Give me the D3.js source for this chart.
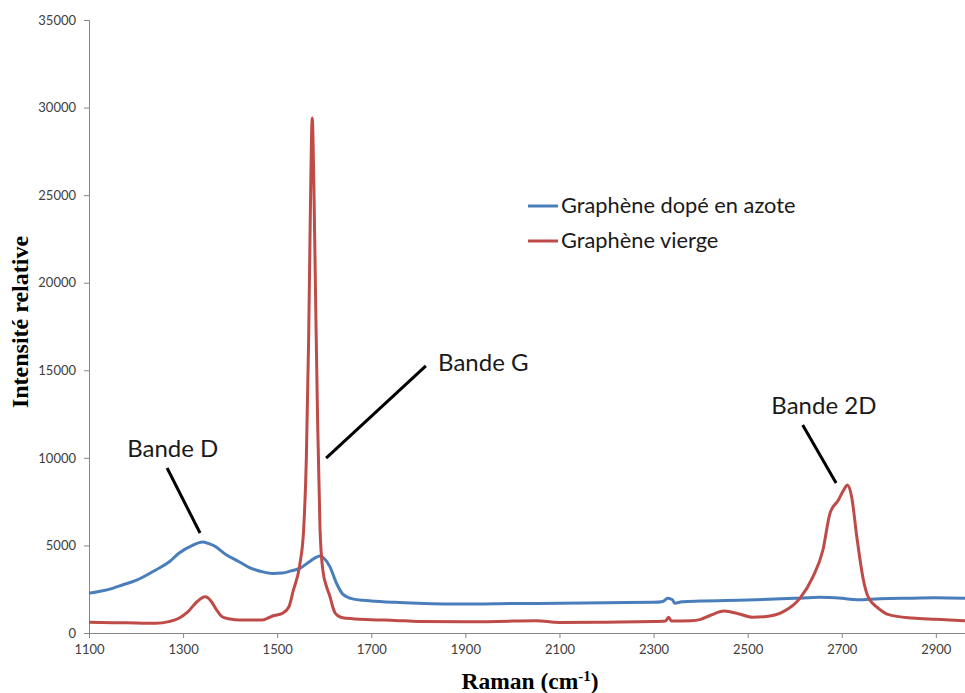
<!DOCTYPE html>
<html lang="fr">
<head>
<meta charset="UTF-8" />
<title>Spectres Raman</title>
<script src="https://d3js.org/d3.v7.min.js"></script>
<style>
  body { margin: 0; background: #fff; }
  .tick text { font-family: Lato, "Open Sans", sans-serif; font-size: 13px; fill: #404040; }
  .axis path, .axis line { stroke: #868686; }
  .lbl { font-family: "Liberation Serif", "Times New Roman", serif; font-weight: bold; fill: #000; }
  .note, .leg { font-family: Lato, "Open Sans", sans-serif; fill: #1a1a1a; }
</style>
</head>
<body>
<div id="chart"></div>
<script>
// Raman shift (cm-1) and intensity
var dopedX = [1100, 1150, 1171, 1200, 1242, 1270, 1291, 1320, 1341, 1355, 1369, 1390, 1419, 1440, 1468, 1490, 1511, 1530, 1548, 1570, 1591, 1598, 1612, 1626, 1640, 1660, 1700, 1750, 1800, 1900, 2000, 2100, 2200, 2300, 2320, 2330, 2340, 2345, 2360, 2400, 2500, 2600, 2654, 2700, 2732, 2781, 2850, 2900, 2962];
var dopedY = [2270, 2550, 2740, 3000, 3600, 4050, 4550, 5000, 5200, 5100, 4930, 4500, 4070, 3750, 3500, 3400, 3420, 3550, 3690, 4100, 4400, 4300, 3790, 2840, 2200, 1950, 1830, 1750, 1700, 1650, 1680, 1700, 1730, 1750, 1800, 1980, 1900, 1700, 1780, 1820, 1880, 1980, 2040, 1980, 1900, 1960, 1990, 2010, 1980];

var pristineX = [1100, 1150, 1200, 1242, 1270, 1291, 1310, 1330, 1347, 1360, 1369, 1383, 1400, 1419, 1468, 1480, 1490, 1511, 1525, 1534, 1548, 1556, 1562, 1567, 1571, 1574.5, 1578, 1582, 1586, 1591, 1597, 1605, 1612, 1618, 1623, 1635, 1648, 1700, 1750, 1800, 1900, 2000, 2050, 2100, 2200, 2300, 2325, 2332, 2338, 2380, 2400, 2420, 2450, 2480, 2511, 2540, 2576, 2611, 2639, 2660, 2675, 2693, 2705, 2712, 2721, 2732, 2746, 2756, 2778, 2800, 2850, 2900, 2962];
var pristineY = [620, 590, 570, 550, 650, 840, 1200, 1800, 2070, 1800, 1410, 930, 800, 740, 740, 850, 970, 1120, 1500, 2400, 3900, 5800, 10000, 17000, 25000, 29400, 25500, 18500, 12000, 6000, 3600, 2640, 2100, 1500, 1140, 900, 840, 760, 720, 660, 640, 680, 700, 600, 620, 650, 680, 900, 680, 700, 780, 1000, 1250, 1100, 900, 940, 1220, 1980, 3220, 4740, 6830, 7600, 8200, 8450, 7780, 5500, 3030, 2070, 1410, 1050, 850, 780, 700];

var seriesNames = ["Graphène dopé en azote", "Graphène vierge"];
var seriesColors = ["#4a7ebb", "#be4b48"];

var xTicks = [1100, 1300, 1500, 1700, 1900, 2100, 2300, 2500, 2700, 2900];
var yTicks = [0, 5000, 10000, 15000, 20000, 25000, 30000, 35000];

// annotations: label, text anchor point, leader line from / to (data units)
var noteLabels = ["Bande D", "Bande G", "Bande 2D"];
var noteText = [[1278, 10050, "middle"], [1842, 14960, "start"], [2662, 12500, "middle"]];
var noteLine = [[1266, 9420, 1336, 5710], [1816, 15250, 1604, 9990], [2617, 11880, 2688, 8570]];

var width = 965, height = 693;
var margin = { left: 89, top: 20, right: 0, bottom: 60 };

var svg = d3.select("#chart").append("svg")
    .attr("width", width)
    .attr("height", height);

var x = d3.scaleLinear().domain([1100, 2962]).range([margin.left, width - margin.right]);
var y = d3.scaleLinear().domain([0, 35000]).range([height - margin.bottom, margin.top]);

// axes
svg.append("g")
    .attr("class", "axis")
    .attr("transform", "translate(0," + y(0) + ")")
    .call(d3.axisBottom(x).tickValues(xTicks).tickFormat(d3.format("d")).tickSizeOuter(0).tickSize(5).tickPadding(7));

svg.append("g")
    .attr("class", "axis")
    .attr("transform", "translate(" + x(1100) + ",0)")
    .call(d3.axisLeft(y).tickValues(yTicks).tickFormat(d3.format("d")).tickSizeOuter(0).tickSize(5).tickPadding(8));

// series
var line = d3.line()
    .x(function(d) { return x(d[0]); })
    .y(function(d) { return y(d[1]); })
    .curve(d3.curveMonotoneX);

var series = [d3.zip(dopedX, dopedY), d3.zip(pristineX, pristineY)];
series.forEach(function(pts, i) {
    svg.append("path")
        .datum(pts)
        .attr("d", line)
        .attr("fill", "none")
        .attr("stroke", seriesColors[i])
        .attr("stroke-width", 3)
        .attr("stroke-linejoin", "round");
});

// legend
var legendY = [206, 241];
seriesNames.forEach(function(name, i) {
    svg.append("line")
        .attr("x1", 528).attr("x2", 558)
        .attr("y1", legendY[i]).attr("y2", legendY[i])
        .attr("stroke", seriesColors[i])
        .attr("stroke-width", 3);
    svg.append("text")
        .attr("class", "leg")
        .attr("x", 561)
        .attr("y", legendY[i] + 7)
        .attr("font-size", 21.8)
        .text(name);
});

// annotations
noteLabels.forEach(function(lab, i) {
    var l = noteLine[i];
    svg.append("line")
        .attr("x1", x(l[0])).attr("y1", y(l[1]))
        .attr("x2", x(l[2])).attr("y2", y(l[3]))
        .attr("stroke", "#000")
        .attr("stroke-width", 3);
    svg.append("text")
        .attr("class", "note")
        .attr("x", x(noteText[i][0]))
        .attr("y", y(noteText[i][1]))
        .attr("text-anchor", noteText[i][2])
        .attr("font-size", 24)
        .text(lab);
});

// axis titles
var xt = svg.append("text")
    .attr("class", "lbl")
    .attr("font-size", 23.5)
    .attr("x", 530)
    .attr("y", 689)
    .attr("text-anchor", "middle");
xt.append("tspan").text("Raman (cm");
xt.append("tspan").attr("dy", -8).attr("font-size", 15).text("-1");
xt.append("tspan").attr("dy", 8).text(")");

svg.append("text")
    .attr("class", "lbl")
    .attr("font-size", 24)
    .attr("transform", "translate(28,322) rotate(-90)")
    .attr("text-anchor", "middle")
    .text("Intensité relative");
</script>
</body>
</html>
